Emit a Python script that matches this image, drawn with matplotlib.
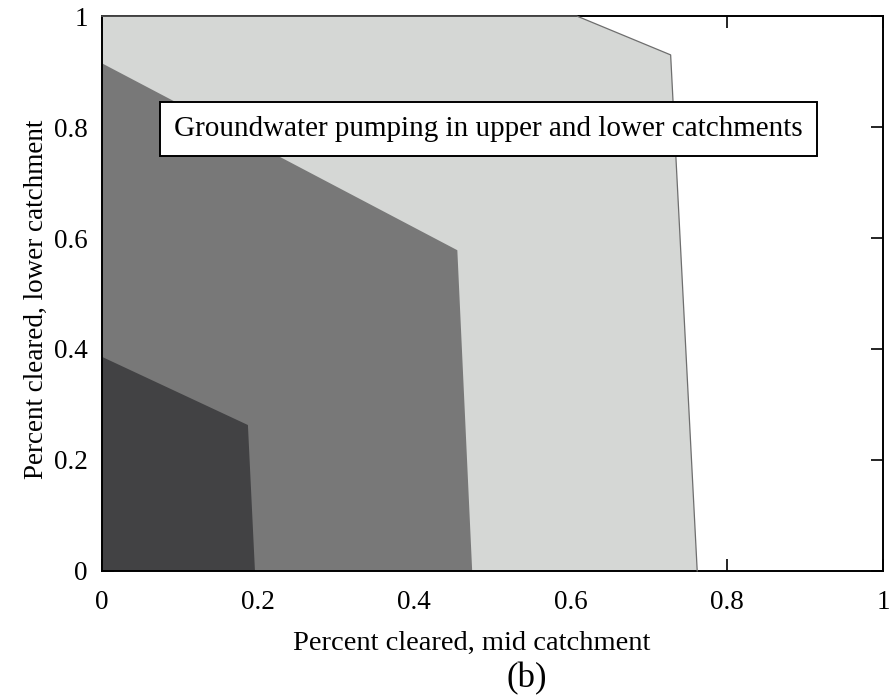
import matplotlib.pyplot as plt

# contour regions (mid catchment cleared vs lower catchment cleared)
light_x = [0, 0, 0.608, 0.728, 0.762]
light_y = [0, 1, 1, 0.93, 0]
mid_x = [0, 0, 0.455, 0.474]
mid_y = [0, 0.915, 0.578, 0]
dark_x = [0, 0, 0.187, 0.196]
dark_y = [0, 0.386, 0.263, 0]

ticks = [0, 0.2, 0.4, 0.6, 0.8, 1]
tick_labels = ['0', '0.2', '0.4', '0.6', '0.8', '1']

plt.rcParams['font.family'] = ['Liberation Serif', 'DejaVu Serif']

fig = plt.figure(figsize=(8.93, 6.98), dpi=100)
ax = fig.add_axes([0.114, 0.182, 0.875, 0.795])

ax.fill(light_x, light_y, color='#d5d7d5', lw=0, zorder=1)
ax.plot(light_x[1:], light_y[1:], color='#6e6e6e', lw=0.9, zorder=3, clip_on=False)
ax.fill(mid_x, mid_y, color='#787878', lw=0, zorder=1.1)
ax.fill(dark_x, dark_y, color='#424244', lw=0, zorder=1.2)

ax.set_xlim(0, 1)
ax.set_ylim(0, 1)
ax.set_xticks(ticks)
ax.set_xticklabels(tick_labels)
ax.set_yticks(ticks)
ax.set_yticklabels(tick_labels)
ax.set_axisbelow(True)
ax.tick_params(direction='in', length=8.5, width=1.2, top=True, right=True,
               labelsize=19.5)
ax.tick_params(axis='x', pad=14)
ax.tick_params(axis='y', pad=10)
for s in ax.spines.values():
    s.set_linewidth(1.4)

ax.set_xlabel('Percent cleared, mid catchment', fontsize=20.5)
ax.set_ylabel('Percent cleared, lower catchment', fontsize=19.5)
ax.xaxis.set_label_coords(0.474, -0.131)
ax.yaxis.set_label_coords(-0.084, 0.49)
ax.xaxis.label.set_va('center')
ax.yaxis.label.set_va('center')

ax.text(0.093, 0.796, 'Groundwater pumping in upper and lower catchments',
        fontsize=21, va='center', ha='left', zorder=5,
        bbox=dict(boxstyle='square,pad=0.48', fc='white', ec='black', lw=1.4))

fig.text(0.590, 0.027, '(b)', fontsize=25, ha='center', va='center')

fig.savefig('out.png', dpi=100)
